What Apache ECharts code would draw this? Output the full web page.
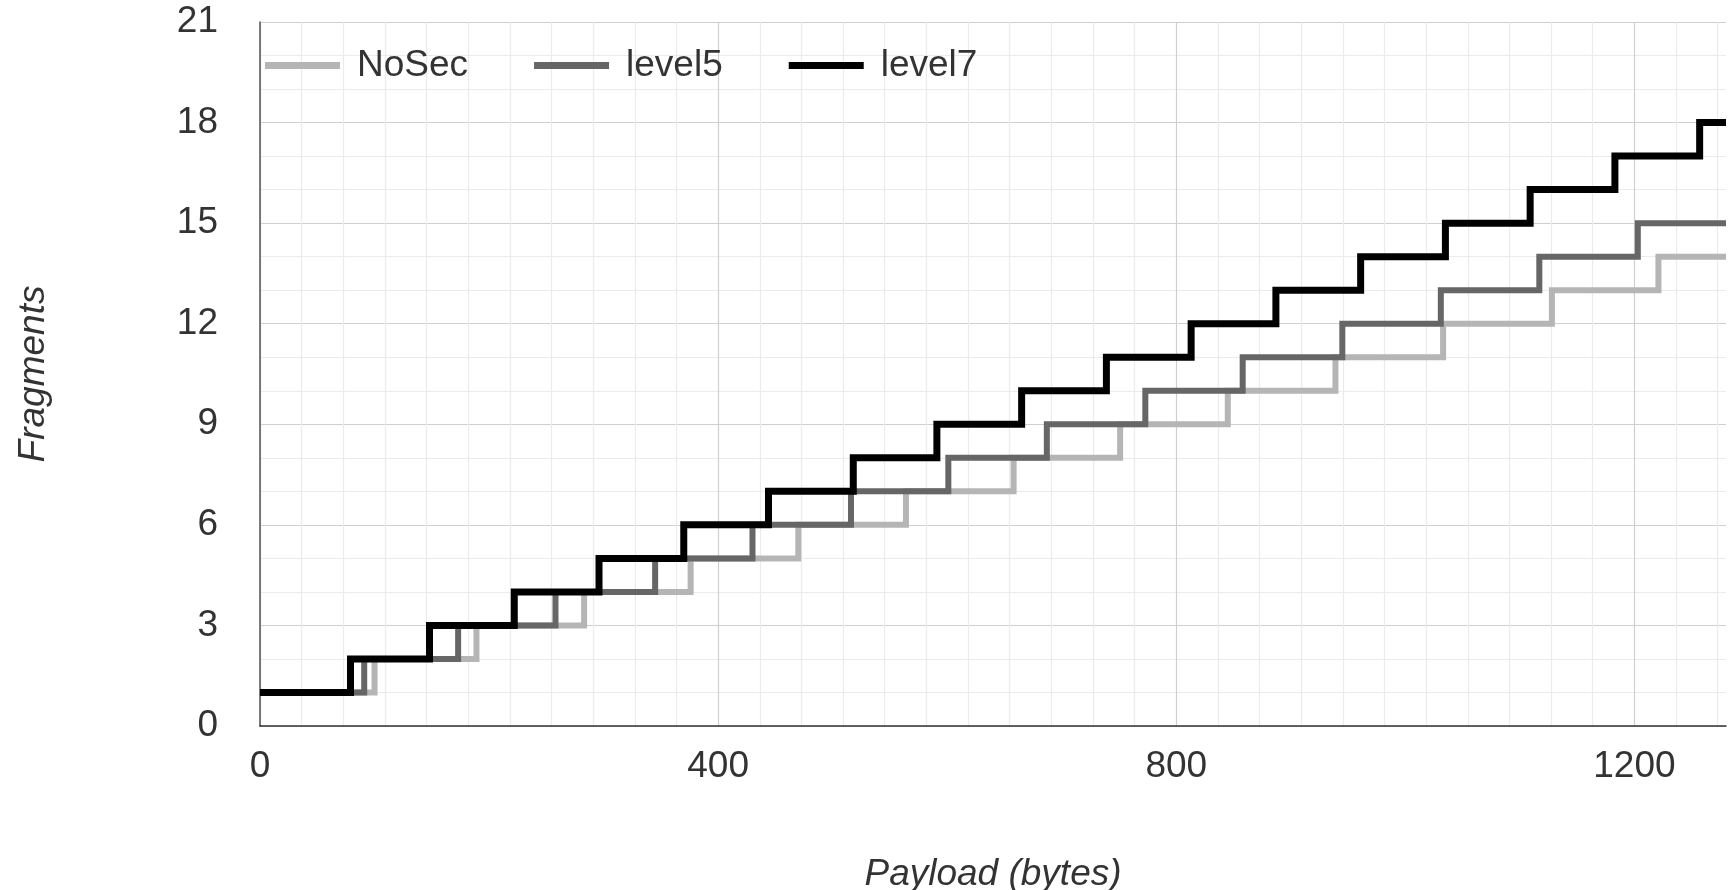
<!DOCTYPE html>
<html>
<head>
<meta charset="utf-8">
<title>Fragments vs payload</title>
<script src="https://cdn.jsdelivr.net/npm/echarts@6/dist/echarts.min.js"></script>
<style>
  html, body { margin: 0; padding: 0; background: #ffffff; }
  #chart { width: 1734px; height: 890px; }
</style>
</head>
<body>
<div id="chart"></div>
<script>
// Payload size (bytes) at which one more fragment is needed, per security level.
// The fragment count starts at 1 and grows by one at each listed payload.
const noSecSteps  = [100, 189, 283, 376, 470, 564, 658, 751, 845, 939, 1033, 1128, 1221];
const level5Steps = [91, 173, 258, 345, 430, 516, 601, 687, 773, 858, 945, 1031, 1117, 1203];
const level7Steps = [79, 148, 222, 296, 370, 444, 518, 591, 665, 739, 813, 887, 961, 1035, 1109, 1183, 1257];

const seriesNames = ['NoSec', 'level5', 'level7'];
const seriesColors = ['#b5b5b5', '#666666', '#000000'];

const payloadMax = 1280;
const xTickLabels = [0, 400, 800, 1200];
const yTickLabels = [0, 3, 6, 9, 12, 15, 18, 21];

const FONT = '"Liberation Sans", Arial, sans-serif';
const TEXT = '#333333';
const FS = 37;

// Turn a list of step payloads into [payload, fragments] points
function stepPoints(steps) {
  const pts = [[0, 1]];
  steps.forEach((p, i) => pts.push([p, i + 2]));
  pts.push([payloadMax, steps.length + 1]);
  return pts;
}

const stepLists = [noSecSteps, level5Steps, level7Steps];
const widths = [6, 6, 7];

const chart = echarts.init(document.getElementById('chart'), null, { renderer: 'canvas' });

chart.setOption({
  animation: false,
  backgroundColor: '#ffffff',
  textStyle: { fontFamily: FONT },
  grid: { left: 260, right: 8, top: 22, bottom: 164, containLabel: false, outerBoundsMode: 'none' },
  legend: {
    data: seriesNames,
    left: 260,
    top: 42,
    icon: 'rect',
    itemWidth: 75,
    itemHeight: 7,
    itemGap: 66,
    textStyle: { fontFamily: FONT, fontSize: FS, color: TEXT, padding: [0, 0, 0, 12] }
  },
  xAxis: {
    type: 'value',
    min: 0,
    max: payloadMax,
    interval: 400,
    name: 'Payload (bytes)',
    nameLocation: 'middle',
    nameGap: 130,
    nameTextStyle: { fontFamily: FONT, fontSize: FS, fontStyle: 'italic', color: TEXT },
    axisLine: { show: true, lineStyle: { color: '#333333', width: 1.5 } },
    axisTick: { show: false },
    axisLabel: {
      fontFamily: FONT, fontSize: FS, color: TEXT, margin: 22,
      showMaxLabel: false,
      formatter: v => (xTickLabels.indexOf(v) >= 0 ? String(v) : '')
    },
    splitLine: { show: true, showMaxLine: false, lineStyle: { color: '#cfcfcf', width: 1.2 } },
    minorTick: { show: false, splitNumber: 11 },
    minorSplitLine: { show: true, lineStyle: { color: '#ebebeb', width: 1.2 } }
  },
  yAxis: {
    type: 'value',
    min: 0,
    max: 21,
    interval: 3,
    name: 'Fragments',
    nameLocation: 'middle',
    nameGap: 208,
    nameTextStyle: { fontFamily: FONT, fontSize: FS, fontStyle: 'italic', color: TEXT },
    axisLine: { show: true, lineStyle: { color: '#555555', width: 1.5 } },
    axisTick: { show: false },
    axisLabel: {
      fontFamily: FONT, fontSize: FS, color: TEXT, margin: 42,
      formatter: v => (yTickLabels.indexOf(v) >= 0 ? String(v) : '')
    },
    splitLine: { show: true, lineStyle: { color: '#cfcfcf', width: 1.2 } },
    minorTick: { show: false, splitNumber: 3 },
    minorSplitLine: { show: true, lineStyle: { color: '#ebebeb', width: 1.2 } }
  },
  series: seriesNames.map((name, i) => ({
    name: name,
    type: 'line',
    step: 'end',
    data: stepPoints(stepLists[i]),
    symbol: 'none',
    color: seriesColors[i],
    lineStyle: { color: seriesColors[i], width: widths[i], join: 'miter', cap: 'butt' },
    z: 2 + i
  }))
});
</script>
</body>
</html>
